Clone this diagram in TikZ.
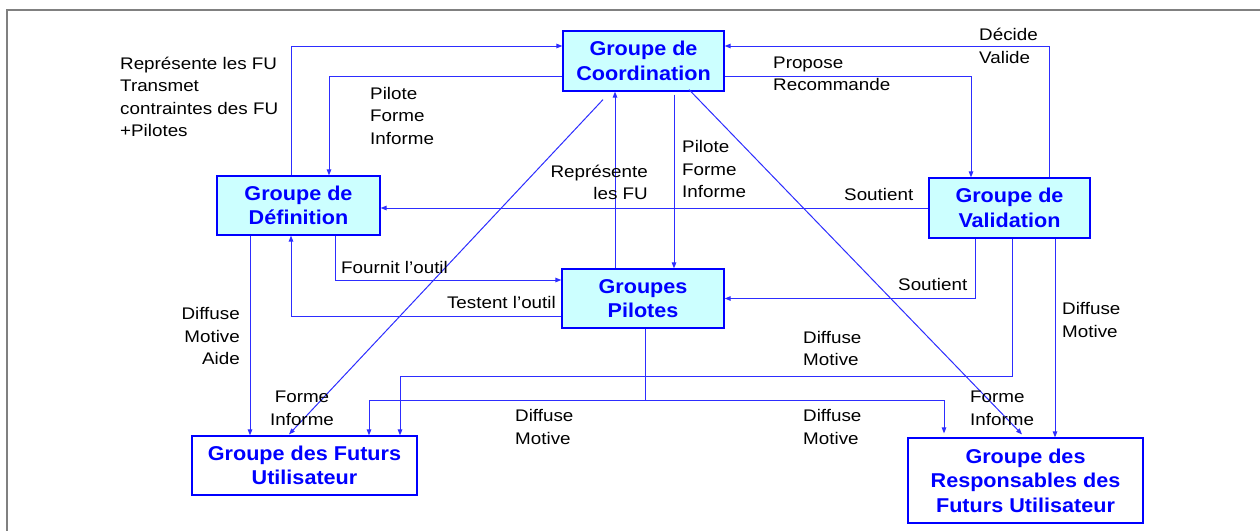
\documentclass[tikz,border=0pt]{standalone}
\usepackage{fontspec}
\setmainfont{Liberation Sans}[FakeStretch=1.12]
\newfontfamily\boxfont{Liberation Sans Bold}[FakeStretch=1.08]
\usetikzlibrary{arrows.meta}
\definecolor{lineblue}{RGB}{45,45,255}
\definecolor{boxblue}{RGB}{0,0,255}
\definecolor{boxfill}{RGB}{204,255,255}
\definecolor{framegray}{RGB}{128,128,128}
\tikzset{
  grp/.style={draw=boxblue, line width=1.2pt, rectangle, inner sep=0pt, align=center,
    text=boxblue, font=\boxfont\fontsize{20}{24.5}\selectfont},
  grpc/.style={grp, fill=boxfill},
  lbl/.style={inner sep=0pt, font=\fontsize{16.8}{22.5}\selectfont, text=black},
  conn/.style={draw=lineblue, line width=1pt},
  arr/.style={conn, -{Triangle[length=6pt,width=4.5pt]}}
}
\begin{document}
\begin{tikzpicture}[x=1pt,y=-1pt]
\useasboundingbox (0,0) rectangle (1260,530);
\draw[framegray, line width=2pt] (1265,10) -- (7,10) -- (7,535);

% nodes
\node[grpc, minimum width=161pt, minimum height=60pt] (coord) at (643.5,61) {Groupe de\\Coordination};
\node[grpc, minimum width=163pt, minimum height=59pt] (def) at (298.5,205.5) {Groupe de\\Définition};
\node[grpc, minimum width=161pt, minimum height=60pt] (val) at (1009.5,208) {Groupe de\\Validation};
\node[grpc, minimum width=162pt, minimum height=59pt] (pil) at (643,298.5) {Groupes\\Pilotes};
\node[grp, minimum width=225pt, minimum height=59pt] (fut) at (304.5,465.5) {Groupe des Futurs\\Utilisateur};
\node[grp, minimum width=235pt, minimum height=85pt] (resp) at (1025.5,480.5) {Groupe des\\Responsables des\\Futurs Utilisateur};

% connectors top
\draw[arr] ([xshift=-7.5pt]def.north) |- ([yshift=15pt]coord.west);
\draw[arr] ([yshift=-15pt]coord.west) -| ([xshift=30.5pt]def.north);
\draw[arr] ([xshift=39.5pt]val.north) |- ([yshift=15pt]coord.east);
\draw[arr] ([yshift=-15pt]coord.east) -| ([xshift=-38.5pt]val.north);
\draw[arr] (val.west) -- (val.west -| def.east);
\draw[arr] ([xshift=-28pt]pil.north) -- ([xshift=-28pt]pil.north |- coord.south);
\draw[arr] ([xshift=30.5pt,yshift=-3pt]coord.south) -- ([xshift=30.5pt]coord.south |- pil.north);
\draw[arr] ([xshift=-40.5pt,yshift=-8pt]coord.south) -- ([xshift=-15.5pt,yshift=1pt]fut.north);
\draw[arr] ([xshift=45.5pt,yshift=2pt]coord.south) -- ([xshift=-3.5pt,yshift=3pt]resp.north);

% middle
\draw[arr] ([xshift=36.5pt]def.south) |- ([yshift=18.5pt]pil.west);
\draw[arr] ([yshift=-17.5pt]pil.west) -| ([xshift=-7.5pt]def.south);
\draw[arr] ([xshift=-48.5pt]def.south) -- ([xshift=-48.5pt]def.south |- fut.north);
\draw[arr] ([xshift=-34.5pt]val.south) |- (pil.east);
\draw[arr] ([xshift=2.5pt]val.south) -- ++(0,138) -| ([xshift=95.5pt]fut.north);
\draw[arr] ([xshift=45.5pt]val.south) -- ([xshift=45.5pt]val.south |- resp.north);

% pilotes distribution
\draw[conn] ([xshift=2pt]pil.south) -- ++(0,71.5) coordinate (pj);
\draw[arr] (pj) -| ([xshift=64.5pt]fut.north);
\draw[arr] (pj) -| ([xshift=-81.5pt,yshift=4pt]resp.north);

% labels
\node[lbl, anchor=west, align=left] (l1) at (120,97) {Représente les FU\\Transmet\\contraintes des FU\\+Pilotes};
\node[lbl, anchor=west, align=left] (l2) at (370,115.5) {Pilote\\Forme\\Informe};
\node[lbl, anchor=west, align=left] (l3) at (979,46) {Décide\\Valide};
\node[lbl, anchor=west, align=left] (l4) at (773,74) {Propose\\Recommande};
\node[lbl, anchor=west] (l5) at (844,194) {Soutient};
\node[lbl, anchor=east, align=right] (l6) at (648,182.5) {Représente\\les FU};
\node[lbl, anchor=west, align=left] (l7) at (682,169) {Pilote\\Forme\\Informe};
\node[lbl, anchor=west] (l8) at (341,267) {Fournit l’outil};
\node[lbl, anchor=east] (l9) at (556,302) {Testent l’outil};
\node[lbl, anchor=east, align=right] (l10) at (240,336) {Diffuse\\Motive\\Aide};
\node[lbl, align=center] (l11) at (302,408.5) {Forme\\Informe};
\node[lbl, anchor=west] (l12) at (898,284) {Soutient};
\node[lbl, anchor=west, align=left] (l13) at (1062,320) {Diffuse\\Motive};
\node[lbl, anchor=west, align=left] (l14) at (803,348.5) {Diffuse\\Motive};
\node[lbl, anchor=west, align=left] (l15) at (515,427) {Diffuse\\Motive};
\node[lbl, anchor=west, align=left] (l16) at (803,427) {Diffuse\\Motive};
\node[lbl, anchor=west, align=left] (l17) at (970,408.5) {Forme\\Informe};
\end{tikzpicture}
\end{document}
